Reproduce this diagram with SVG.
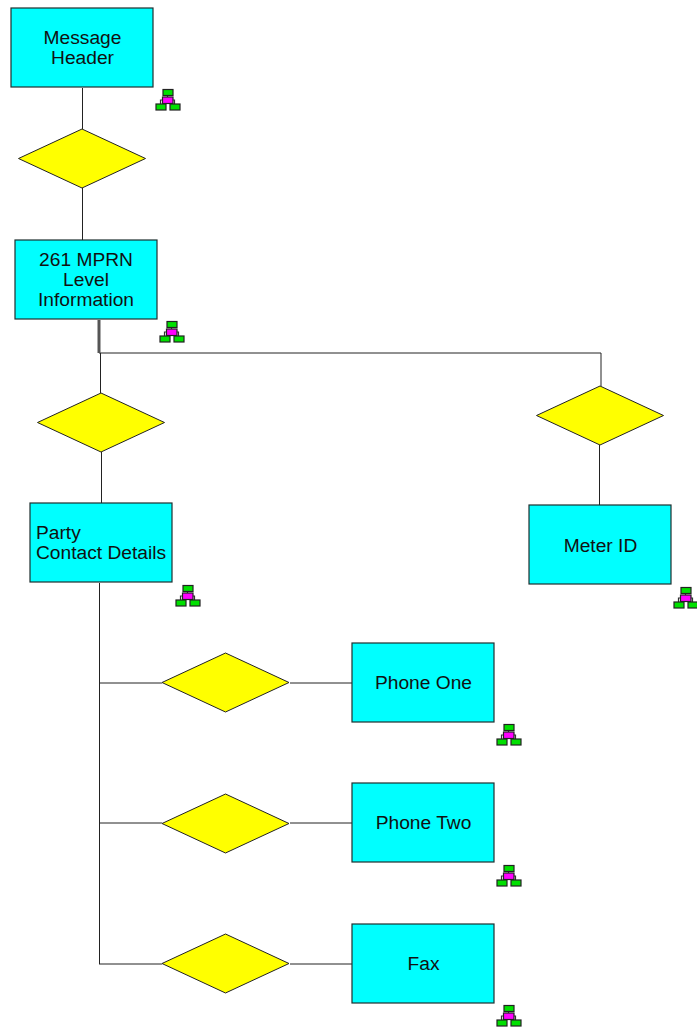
<svg xmlns="http://www.w3.org/2000/svg" width="697" height="1027" viewBox="0 0 697 1027">
<style>
.box{fill:#00ffff;stroke:#1f2f2f;stroke-width:1.2}
.dia{fill:#ffff00;stroke:#222;stroke-width:1}
.ln{fill:none;stroke:#222;stroke-width:1}
text{font-family:"Liberation Sans",Arial,sans-serif;font-size:19.2px;fill:#111;text-anchor:middle}
.g{fill:#00e000;stroke:#222;stroke-width:1.2}
.m{fill:#ff00ff;stroke:#222;stroke-width:1.2}
.i{fill:none;stroke:#333;stroke-width:1.2}
</style>
<defs>
<g id="ic">
<path class="i" d="M12.500 6V9M5.500 15V11H19.500V15"/>
<rect class="g" x="8" y="0.500" width="10" height="6"/>
<rect class="m" x="7.500" y="8" width="10.500" height="6.500"/>
<rect class="g" x="1" y="15" width="10" height="6"/>
<rect class="g" x="15" y="15" width="10" height="6"/>
</g>
<polygon id="d" class="dia" points="0,29.500 63.500,0 127,29.500 63.500,59"/>
</defs>
<g id="connectors">
<path class="ln" d="M82.500 88V129M82.500 188V240"/>
<path class="ln" d="M100.500 353V393M101.500 452V503M99 353H601V386M599.500 445V505"/>
<path d="M99 320V353" fill="none" stroke="#555" stroke-width="3"/>
<path class="ln" d="M99.500 583V964M99 683H162M290 683H352M99 823H162M290 823H352M99 964H162M290 964H352"/>
</g>
<g id="n1"><rect class="box" x="11" y="8" width="142" height="79"/><text x="82.500" y="44">Message</text><text x="82.500" y="64">Header</text></g>
<use href="#ic" x="155" y="89"/>
<g id="n2"><use href="#d" x="18.500" y="129"/></g>
<g id="n3"><rect class="box" x="15" y="240" width="142" height="79"/><text x="86" y="266">261 MPRN</text><text x="86" y="286">Level</text><text x="86" y="306">Information</text></g>
<use href="#ic" x="159" y="321"/>
<g id="n4"><use href="#d" x="37.500" y="393"/></g>
<g id="n5"><use href="#d" x="536.500" y="386"/></g>
<g id="n6"><rect class="box" x="30" y="503" width="142" height="79"/><text x="36" y="539" style="text-anchor:start">Party</text><text x="36" y="559" style="text-anchor:start">Contact Details</text></g>
<use href="#ic" x="175" y="585"/>
<g id="n7"><rect class="box" x="529" y="505" width="142" height="79"/><text x="600.500" y="552">Meter ID</text></g>
<use href="#ic" x="673" y="587"/>
<g id="n8"><use href="#d" x="162" y="653"/></g>
<g id="n9"><rect class="box" x="352" y="643" width="142" height="79"/><text x="423.500" y="689">Phone One</text></g>
<use href="#ic" x="496" y="724"/>
<g id="n10"><use href="#d" x="162" y="794"/></g>
<g id="n11"><rect class="box" x="352" y="783" width="142" height="79"/><text x="423.500" y="829">Phone Two</text></g>
<use href="#ic" x="496" y="865"/>
<g id="n12"><use href="#d" x="162" y="934"/></g>
<g id="n13"><rect class="box" x="352" y="924" width="142" height="79"/><text x="423.500" y="970">Fax</text></g>
<use href="#ic" x="496" y="1005"/>
</svg>
